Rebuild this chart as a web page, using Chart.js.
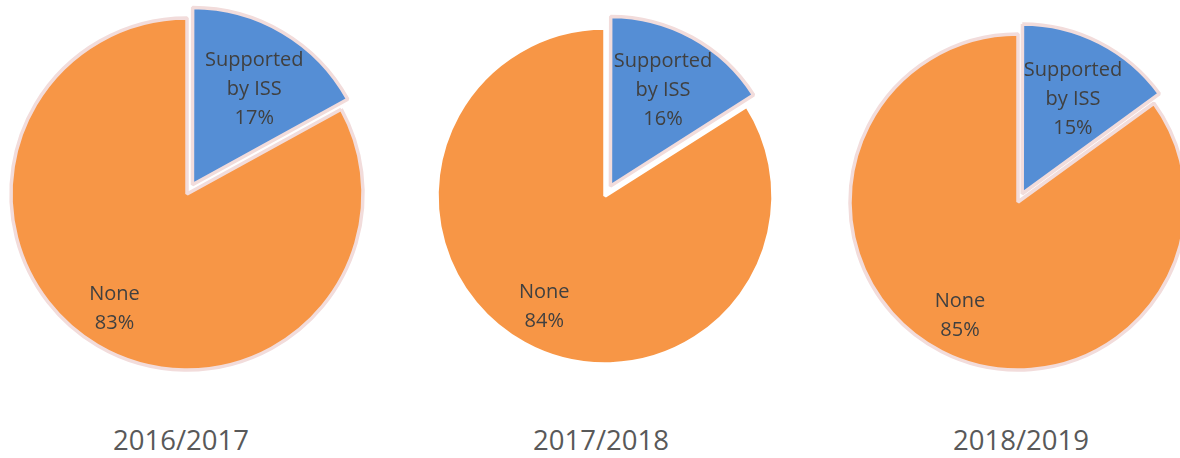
<!DOCTYPE html>
<html>
<head>
<meta charset="utf-8">
<script src="https://cdn.jsdelivr.net/npm/chart.js@4/dist/chart.umd.min.js"></script>
<style>
  html, body { margin: 0; padding: 0; background: #ffffff; }
  body { width: 1180px; height: 458px; position: relative; overflow: hidden; }
  canvas.pie { position: absolute; }
  .year {
    position: absolute; top: 421px; width: 240px; text-align: center;
    font-family: "Open Sans", "Noto Sans", sans-serif; font-size: 27.5px; color: #595959;
  }
</style>
</head>
<body>
<canvas id="pie0" class="pie" width="420" height="420" style="left:-23px;top:-16px"></canvas>
<canvas id="pie1" class="pie" width="420" height="420" style="left:395px;top:-14px"></canvas>
<canvas id="pie2" class="pie" width="420" height="420" style="left:808px;top:-8px"></canvas>
<div class="year" style="left:61px">2016/2017</div>
<div class="year" style="left:481px">2017/2018</div>
<div class="year" style="left:901px">2018/2019</div>
<script>
// Share of students, by school year
const categories = ["Supported by ISS", "None"];
const categoryLines = [["Supported", "by ISS"], ["None"]];
const years = ["2016/2017", "2017/2018", "2018/2019"];
const supported = [17, 16, 15];
const none = [83, 84, 85];

const BLUE = "#558ed5";
const ORANGE = "#f79646";
const PINK = "#f2dcdb";

// Per-chart drawing settings (gap = pixel distance the blue slice is pulled out)
const pieStyles = [
  { radius: 176, gap: 12, labelAt: [0.64, 0.77], labelTurn: [0.04, 0.03], borders: [PINK, PINK] },
  { radius: 168, gap: 13, labelAt: [0.64, 0.75], labelTurn: [0, 0], borders: [PINK, "#ffffff"] },
  { radius: 168, gap: 11, labelAt: [0.63, 0.76], labelTurn: [0.02, 0], borders: [PINK, PINK] }
];

// ArcElement moves a slice by offset/4 * (2 - sin(angle)); invert that for a pixel gap
function arcOffsetFor(gap, fraction) {
  const sweep = Math.min(Math.PI, fraction * 2 * Math.PI);
  return gap * 4 / (2 - Math.sin(sweep));
}
function arcShift(arc) {
  const sweep = Math.min(Math.PI, arc.circumference || (arc.endAngle - arc.startAngle));
  return (arc.options.offset || 0) / 4 * (2 - Math.sin(sweep));
}

// Writes category name and percentage inside each slice
const sliceLabels = {
  id: "sliceLabels",
  afterDatasetsDraw(chart, args, opts) {
    const ctx = chart.ctx;
    const meta = chart.getDatasetMeta(0);
    const values = chart.data.datasets[0].data;
    const total = values.reduce((a, b) => a + b, 0);
    ctx.save();
    ctx.font = "20px 'Open Sans', 'Noto Sans', sans-serif";
    ctx.fillStyle = "#404040";
    ctx.textAlign = "center";
    ctx.textBaseline = "middle";
    meta.data.forEach((arc, i) => {
      const mid = (arc.startAngle + arc.endAngle) / 2;
      const shift = arcShift(arc);
      const r = opts.labelAt[i] * arc.outerRadius;
      const a = mid + opts.labelTurn[i];
      const cx = arc.x + Math.cos(mid) * shift + Math.cos(a) * r;
      const cy = arc.y + Math.sin(mid) * shift + Math.sin(a) * r;
      const lines = categoryLines[i].concat([Math.round(values[i] / total * 100) + "%"]);
      const step = 29;
      const y0 = cy - (lines.length - 1) * step / 2;
      lines.forEach((t, k) => ctx.fillText(t, cx, y0 + k * step));
    });
    ctx.restore();
  }
};

years.forEach((year, idx) => {
  const s = pieStyles[idx];
  const data = [supported[idx], none[idx]];
  const total = data[0] + data[1];
  new Chart(document.getElementById("pie" + idx), {
    type: "pie",
    data: {
      labels: categories,
      datasets: [{
        label: year,
        data: data,
        backgroundColor: [BLUE, ORANGE],
        borderColor: s.borders,
        borderWidth: 3.5,
        offset: [arcOffsetFor(s.gap, data[0] / total), 0]
      }]
    },
    options: {
      responsive: false,
      animation: false,
      radius: s.radius,
      layout: { padding: 0 },
      plugins: {
        legend: { display: false },
        tooltip: { enabled: false },
        title: { display: false },
        sliceLabels: { labelAt: s.labelAt, labelTurn: s.labelTurn }
      }
    },
    plugins: [sliceLabels]
  });
});
</script>
</body>
</html>
